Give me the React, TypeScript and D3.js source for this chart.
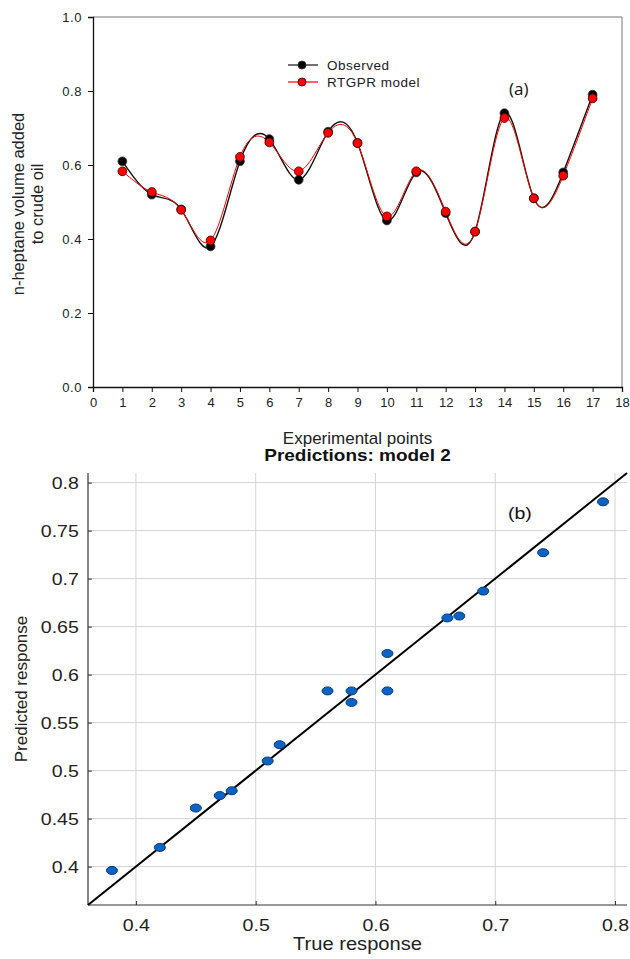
import { useEffect, useRef } from "react";
import * as d3 from "d3";

// panel (a): experimental points
const points = [1, 2, 3, 4, 5, 6, 7, 8, 9, 10, 11, 12, 13, 14, 15, 16, 17];
const observed = [0.61, 0.52, 0.48, 0.38, 0.61, 0.67, 0.56, 0.69, 0.66, 0.45, 0.58, 0.47, 0.42, 0.74, 0.51, 0.58, 0.79];
const rtgpr = [0.583, 0.527, 0.479, 0.396, 0.622, 0.661, 0.583, 0.687, 0.659, 0.461, 0.583, 0.474, 0.42, 0.727, 0.51, 0.571, 0.78];
const xTicksA = d3.range(0, 19);
const yTicksA = [0, 0.2, 0.4, 0.6, 0.8, 1.0];

// panel (b): true vs predicted
const xTicksB = [0.4, 0.5, 0.6, 0.7, 0.8];
const yTicksB = [0.4, 0.45, 0.5, 0.55, 0.6, 0.65, 0.7, 0.75, 0.8];

const W = 630;
const H = 959;

export default function App() {
  const svgRef = useRef<SVGSVGElement>(null);

  useEffect(() => {
    const svg = d3.select(svgRef.current);
    svg.selectAll("*").remove();
    const font = "'Liberation Sans', Arial, sans-serif";
    const stretch = "scale(1.15,1)"; // panel (b) text is a bit wide

    // ---------- (a) ----------
    const a = { left: 93, right: 622, top: 17, bottom: 387 };
    const x = d3.scaleLinear().domain([0, 18]).range([a.left, a.right]);
    const y = d3.scaleLinear().domain([0, 1]).range([a.bottom, a.top]);

    const ga = svg.append("g").attr("font-family", font);

    // frame (top/right light)
    ga.append("path")
      .attr("d", `M${a.left},${a.top}H${a.right}V${a.bottom}`)
      .attr("fill", "none").attr("stroke", "#777").attr("stroke-width", 1);

    ga.append("g")
      .attr("transform", `translate(0,${a.bottom})`)
      .call(d3.axisBottom(x).tickValues(xTicksA).tickSize(5).tickPadding(6).tickFormat(d3.format("d")))
      .call((g) => g.select(".domain").attr("stroke", "#111").attr("stroke-width", 1.3))
      .call((g) => g.selectAll("line").attr("stroke", "#111"))
      .call((g) => g.selectAll("text").attr("font-size", 13).attr("fill", "#222").attr("font-family", font));

    ga.append("g")
      .attr("transform", `translate(${a.left},0)`)
      .call(d3.axisLeft(y).tickValues(yTicksA).tickSize(5).tickPadding(6).tickFormat(d3.format(".1f")))
      .call((g) => g.select(".domain").attr("stroke", "#111").attr("stroke-width", 1.3))
      .call((g) => g.selectAll("line").attr("stroke", "#111"))
      .call((g) => g.selectAll("text").attr("font-size", 13).attr("letter-spacing", 0.6).attr("fill", "#222").attr("font-family", font));

    ga.append("text")
      .attr("x", (a.left + a.right) / 2).attr("y", 444)
      .attr("text-anchor", "middle").attr("font-size", 17).attr("fill", "#222")
      .text("Experimental points");

    const ylab = ga.append("text")
      .attr("transform", `translate(24,${(a.top + a.bottom) / 2 + 2}) rotate(-90)`)
      .attr("text-anchor", "middle").attr("font-size", 16.5).attr("fill", "#222");
    ylab.append("tspan").attr("x", 0).attr("dy", 0).text("n-heptane volume added");
    ylab.append("tspan").attr("x", 0).attr("dy", 19).text("to crude oil");

    const line = d3.line<number>()
      .x((_, i) => x(points[i]))
      .y((d) => y(d))
      .curve(d3.curveNatural);

    ga.append("path").attr("d", line(observed)).attr("fill", "none").attr("stroke", "#111").attr("stroke-width", 1.4);
    ga.append("path").attr("d", line(rtgpr)).attr("fill", "none").attr("stroke", "#f00").attr("stroke-width", 1);

    ga.append("g").selectAll("circle").data(observed).join("circle")
      .attr("cx", (_, i) => x(points[i])).attr("cy", (d) => y(d))
      .attr("r", 4.4).attr("fill", "#000").attr("stroke", "#333").attr("stroke-width", 0.8);
    ga.append("g").selectAll("circle").data(rtgpr).join("circle")
      .attr("cx", (_, i) => x(points[i])).attr("cy", (d) => y(d))
      .attr("r", 4.4).attr("fill", "#f00").attr("stroke", "#300").attr("stroke-width", 0.8);

    // legend
    const leg = [
      { label: "Observed", fill: "#000", stroke: "#111", y: 65 },
      { label: "RTGPR model", fill: "#f00", stroke: "#f00", y: 82 },
    ];
    leg.forEach((l) => {
      ga.append("line").attr("x1", 288).attr("x2", 318).attr("y1", l.y).attr("y2", l.y)
        .attr("stroke", l.stroke).attr("stroke-width", 1.2);
      ga.append("circle").attr("cx", 302).attr("cy", l.y).attr("r", 4)
        .attr("fill", l.fill).attr("stroke", l.fill === "#f00" ? "#300" : "#333").attr("stroke-width", 0.8);
      ga.append("text").attr("x", 327).attr("y", l.y + 5).attr("font-size", 13.5)
        .attr("letter-spacing", 0.5).attr("fill", "#222").text(l.label);
    });

    ga.append("text").attr("x", 509).attr("y", 95).attr("font-size", 17)
      .attr("font-family", "'Open Sans', sans-serif").attr("fill", "#111").text("(a)");

    // ---------- (b) ----------
    const b = { left: 88, right: 627, top: 473, bottom: 905 };
    const xb = d3.scaleLinear().domain([0.36, 0.81]).range([b.left, b.right]);
    const yb = d3.scaleLinear().domain([0.36, 0.81]).range([b.bottom, b.top]);
    const gb = svg.append("g").attr("font-family", font);

    // grid
    gb.append("g").selectAll("line").data(xTicksB).join("line")
      .attr("x1", (d) => xb(d)).attr("x2", (d) => xb(d)).attr("y1", b.top).attr("y2", b.bottom)
      .attr("stroke", "#d4d4d4").attr("stroke-width", 1);
    gb.append("g").selectAll("line").data(yTicksB).join("line")
      .attr("x1", b.left).attr("x2", b.right).attr("y1", (d) => yb(d)).attr("y2", (d) => yb(d))
      .attr("stroke", "#d4d4d4").attr("stroke-width", 1);

    gb.append("g")
      .attr("transform", `translate(0,${b.bottom})`)
      .call(d3.axisBottom(xb).tickValues(xTicksB).tickSize(-4).tickPadding(14).tickFormat(d3.format("")))
      .call((g) => g.select(".domain").attr("stroke", "#333").attr("stroke-width", 1.2).attr("d", `M${b.left},0H${b.right}`))
      .call((g) => g.selectAll("line").attr("stroke", "#333"))
      .call((g) => g.selectAll("text").attr("font-size", 17).attr("fill", "#222").attr("font-family", font).attr("transform", stretch));

    gb.append("g")
      .attr("transform", `translate(${b.left},0)`)
      .call(d3.axisLeft(yb).tickValues(yTicksB).tickSize(-4).tickPadding(8).tickFormat(d3.format("")))
      .call((g) => g.select(".domain").attr("stroke", "#333").attr("stroke-width", 1.2).attr("d", `M0,${b.top}V${b.bottom}`))
      .call((g) => g.selectAll("line").attr("stroke", "#333"))
      .call((g) => g.selectAll("text").attr("font-size", 17).attr("fill", "#222").attr("font-family", font).attr("transform", stretch));

    // y = x reference line
    gb.append("line")
      .attr("x1", xb(0.36)).attr("y1", yb(0.36)).attr("x2", xb(0.81)).attr("y2", yb(0.81))
      .attr("stroke", "#000").attr("stroke-width", 2);

    gb.append("g").selectAll("ellipse").data(observed).join("ellipse")
      .attr("cx", (d) => xb(d)).attr("cy", (_, i) => yb(rtgpr[i]))
      .attr("rx", 5.5).attr("ry", 4).attr("fill", "#0c63c4").attr("stroke", "#063a7a").attr("stroke-width", 1);

    gb.append("text").attr("transform", `translate(${(b.left + b.right) / 2},461) ${stretch}`)
      .attr("text-anchor", "middle").attr("font-size", 16.5).attr("font-weight", "bold").attr("fill", "#111")
      .text("Predictions: model 2");

    gb.append("text").attr("transform", `translate(${(b.left + b.right) / 2},950) ${stretch}`)
      .attr("text-anchor", "middle").attr("font-size", 17.5).attr("fill", "#222").text("True response");

    gb.append("text").attr("transform", `translate(27,${(b.top + b.bottom) / 2}) rotate(-90)`)
      .attr("text-anchor", "middle").attr("font-size", 17).attr("fill", "#222").text("Predicted response");

    gb.append("text").attr("transform", `translate(508,519) ${stretch}`).attr("font-size", 17)
      .attr("fill", "#111").text("(b)");
  }, []);

  return (
    <svg
      ref={svgRef}
      width={W}
      height={H}
      style={{ position: "absolute", left: 0, top: 0, background: "#fff" }}
    />
  );
}
